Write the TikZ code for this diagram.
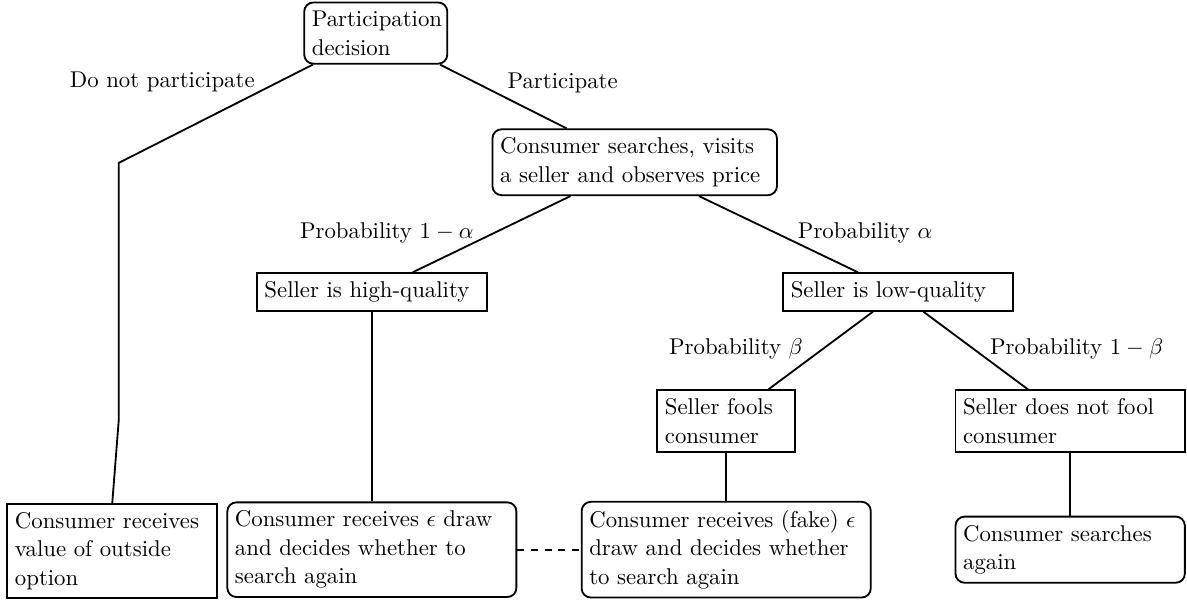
\documentclass[tikz,border=0pt]{standalone}
\usepackage{amsmath}
\usepackage{tikz}
\usetikzlibrary{calc}

\begin{document}
\begin{tikzpicture}[
    sq/.style={draw,thick,align=left,inner ysep=3.7pt,font=\fontsize{10}{12.5}\selectfont},
    rnd/.style={sq,rounded corners=4pt},
    branch/.style={thick}
  ]
    \useasboundingbox (0,0) rectangle (18.29,-9.25);
    \node[rnd,text width=1.97cm] (part) at (5.79,-0.51) {Participation decision};
    \node (dnp) at (2.50,-1.26) {Do not participate};
    \node (yes) at (8.67,-1.28) {Participate};
    \node[rnd,text width=4.15cm] (search) at (9.78,-2.50) {Consumer searches, visits a seller and observes price};
    \node (pha) at (5.96,-3.59) {Probability $1-\alpha$};
    \node (pla) at (13.33,-3.59) {Probability $\alpha$};
    \node[sq,text width=3.31cm] (high) at (5.73,-4.50) {Seller is high-quality};
    \node[sq,text width=3.31cm] (low) at (13.84,-4.50) {Seller is low-quality};
    \node (pfb) at (11.34,-5.38) {Probability $\beta$};
    \node (pnb) at (16.59,-5.38) {Probability $1-\beta$};
    \node[sq,text width=1.89cm] (fools) at (11.19,-6.49) {Seller fools consumer};
    \node[sq,text width=3.30cm] (nofool) at (16.49,-6.49) {Seller does not fool consumer};
    \node[sq,text width=3.0cm] (outside) at (1.73,-8.49) {Consumer receives value of outside option};
    \node[rnd,text width=4.22cm] (higheps) at (5.73,-8.47) {Consumer receives $\epsilon$ draw and decides whether to search again};
    \node[rnd,text width=4.22cm] (fake) at (11.19,-8.47) {Consumer receives (fake) $\epsilon$ draw and decides whether to search again};
    \node[rnd,text width=3.30cm] (again) at (16.49,-8.47) {Consumer searches again};
    \coordinate (k1) at (1.83,-2.51);
    \coordinate (k2) at (1.83,-6.47);
    \draw[branch] ([xshift=-0.97cm]part.south) -- (k1) -- (k2) -- (outside.north);
    \draw[branch] ([xshift=0.99cm]part.south) -- ([xshift=-1.05cm]search.north);
    \draw[branch] ([xshift=-0.99cm]search.south) -- ([xshift=0.63cm]high.north);
    \draw[branch] ([xshift=0.99cm]search.south) -- ([xshift=-0.62cm]low.north);
    \draw[branch] ([xshift=-0.39cm]low.south) -- ([xshift=0.65cm]fools.north);
    \draw[branch] ([xshift=0.39cm]low.south) -- ([xshift=-0.65cm]nofool.north);
    \draw[branch] (high) -- (higheps);
    \draw[branch] (fools) -- (fake);
    \draw[branch] (nofool) -- (again);
    \draw[branch,dashed] (higheps) -- (fake);
\end{tikzpicture}
\end{document}
